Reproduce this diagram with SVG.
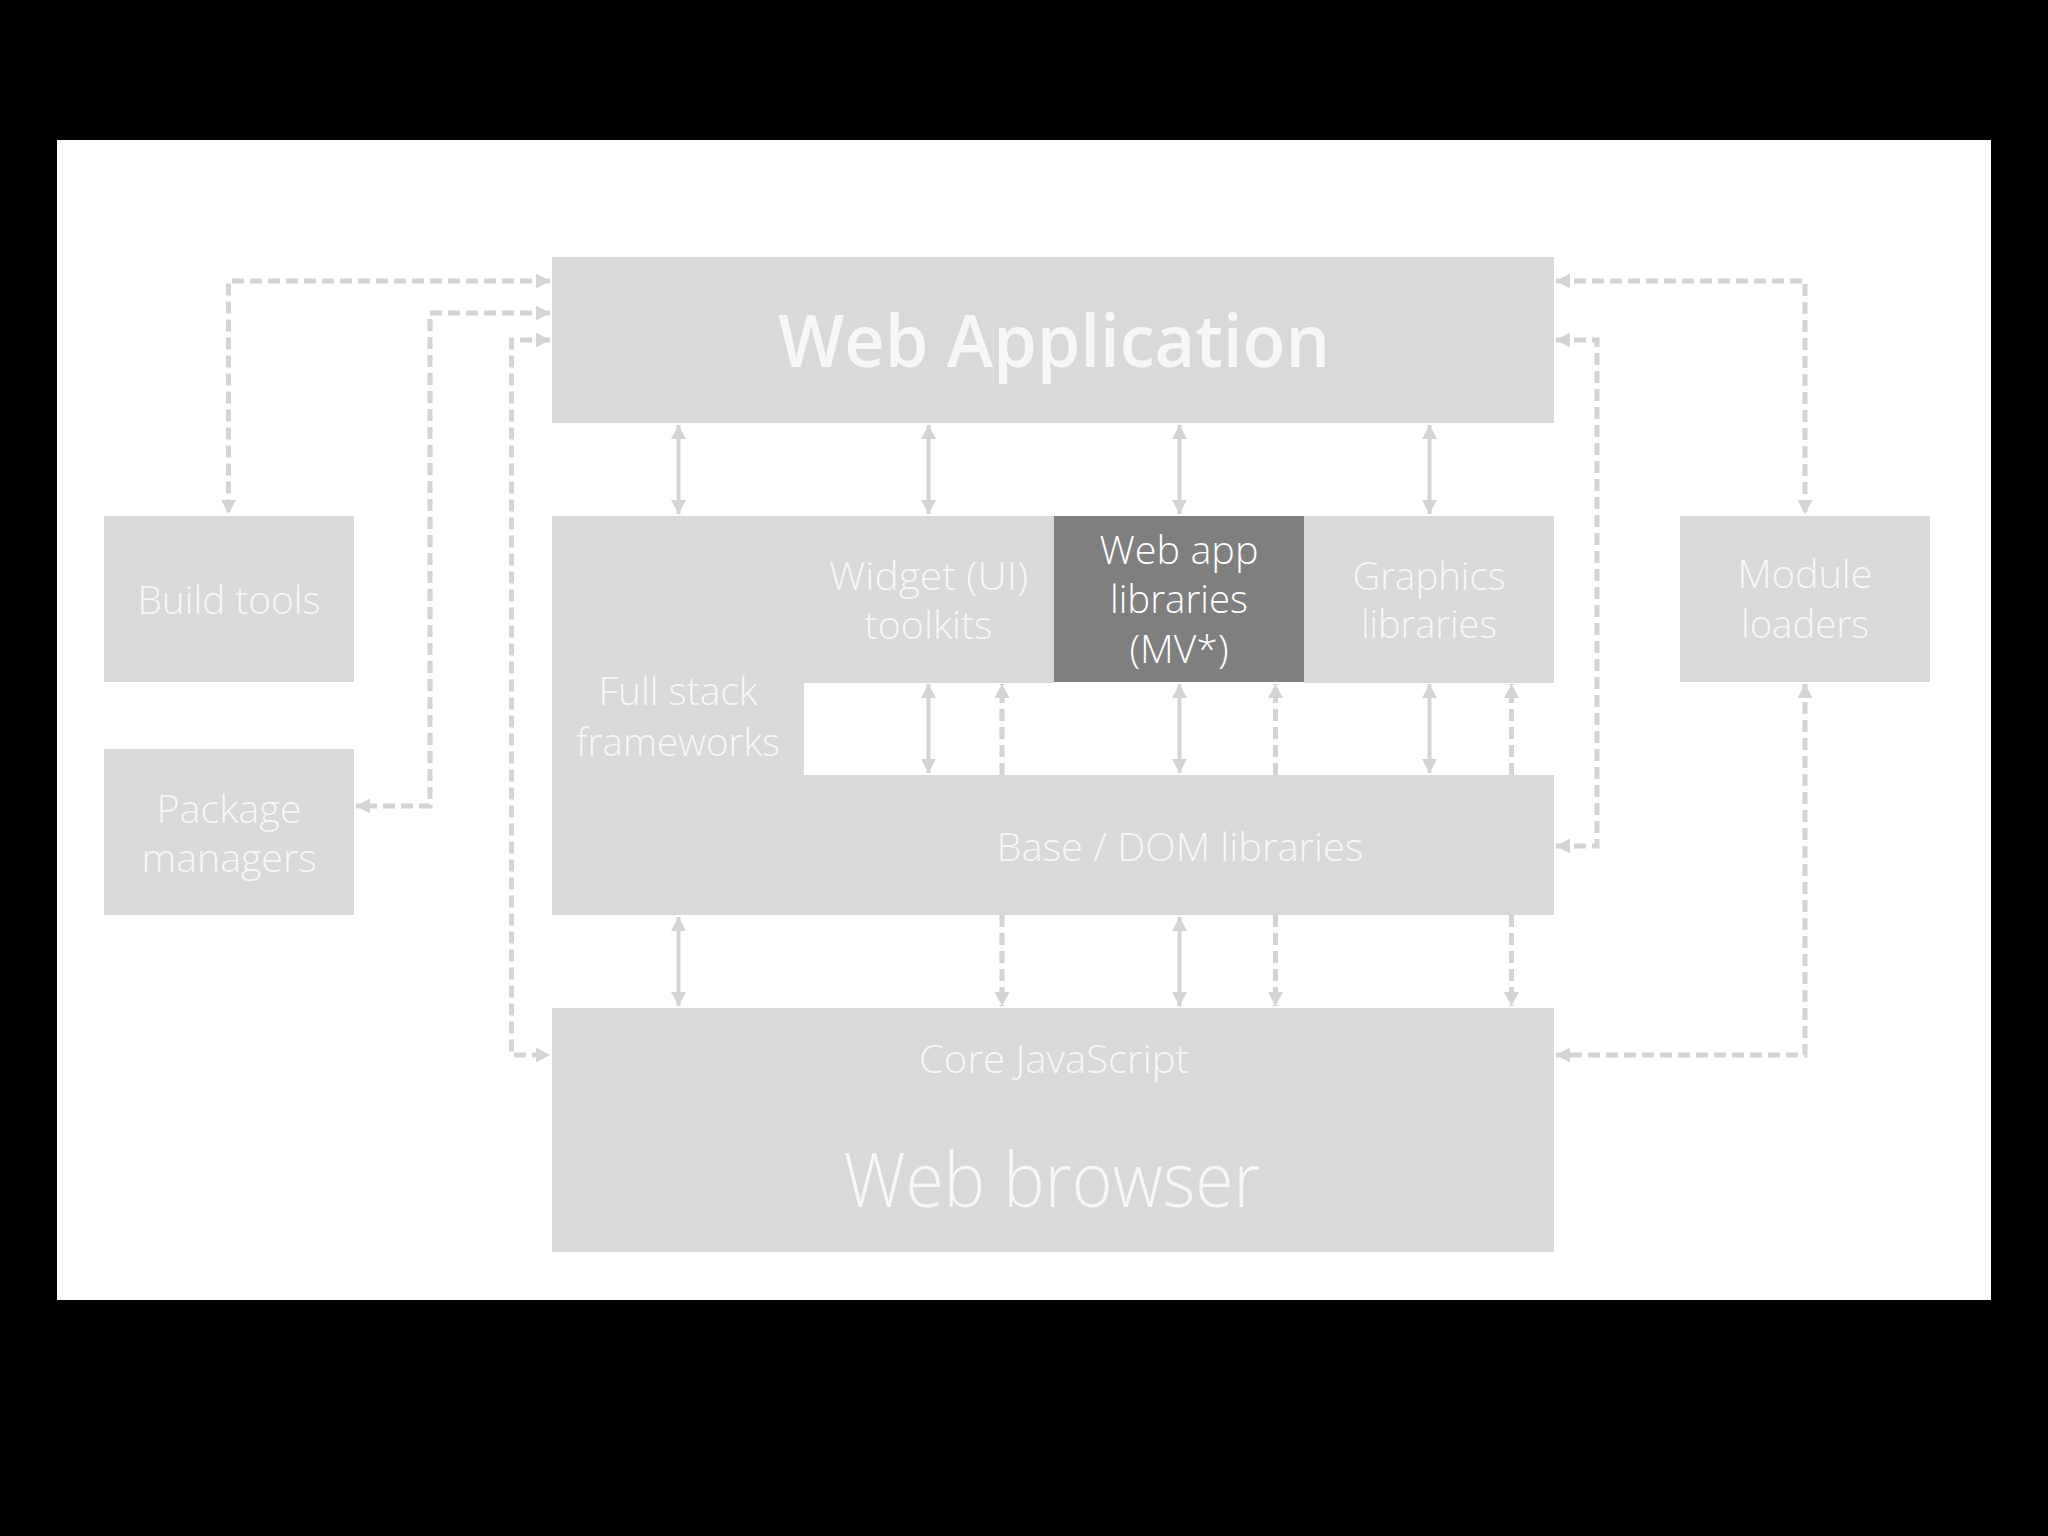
<svg xmlns="http://www.w3.org/2000/svg" width="2048" height="1536" viewBox="0 0 2048 1536">
  <style>
    .box { fill: #d9d9d9; }
    .dark { fill: #7f7f7f; }
    .t { font-family: "Open Sans", "Noto Sans", "Liberation Sans", sans-serif; font-weight: 300; fill: #f7f7f7; text-anchor: middle; font-size: 39px; }
    .tw { fill: #ffffff; font-weight: 300; }
    .big { font-size: 72px; font-weight: 600; }
    .huge { font-size: 76px; font-weight: 300; }
    .solid { fill: none; stroke: #d4d4d4; stroke-width: 4; marker-start: url(#ah); marker-end: url(#ah); }
    .dash { fill: none; stroke: #d4d4d4; stroke-width: 5; stroke-dasharray: 12 6; }
    .both { marker-start: url(#ah); marker-end: url(#ah); }
    .end { marker-end: url(#ah); }
  </style>
  <defs>
    <marker id="ah" markerUnits="userSpaceOnUse" markerWidth="15" markerHeight="16" refX="14" refY="8" orient="auto-start-reverse">
      <path d="M0,0.5 L14,8 L0,15.5 z" fill="#d4d4d4"/>
    </marker>
  </defs>

  <rect x="0" y="0" width="2048" height="1536" fill="#000000"/>
  <rect x="57" y="140" width="1934" height="1160" fill="#ffffff"/>

  <g id="web-application">
    <rect class="box" x="552" y="257" width="1002" height="166"/>
    <text class="t big" x="1054" y="367" textLength="552" lengthAdjust="spacingAndGlyphs">Web Application</text>
  </g>

  <g id="full-stack-frameworks">
    <rect class="box" x="552" y="516" width="252" height="399"/>
    <text class="t" x="678" y="705" textLength="159" lengthAdjust="spacingAndGlyphs">Full stack</text>
    <text class="t" x="678" y="756" textLength="204" lengthAdjust="spacingAndGlyphs">frameworks</text>
  </g>

  <g id="widget-toolkits">
    <rect class="box" x="803" y="516" width="251" height="167"/>
    <text class="t" x="928.5" y="590" textLength="199" lengthAdjust="spacingAndGlyphs">Widget (UI)</text>
    <text class="t" x="928.5" y="639" textLength="128" lengthAdjust="spacingAndGlyphs">toolkits</text>
  </g>

  <g id="web-app-libraries">
    <rect class="dark" x="1054" y="516" width="250" height="166"/>
    <text class="t tw" x="1179" y="564" textLength="159" lengthAdjust="spacingAndGlyphs">Web app</text>
    <text class="t tw" x="1179" y="613" textLength="138" lengthAdjust="spacingAndGlyphs">libraries</text>
    <text class="t tw" x="1179" y="663" textLength="99" lengthAdjust="spacingAndGlyphs">(MV*)</text>
  </g>

  <g id="graphics-libraries">
    <rect class="box" x="1304" y="516" width="250" height="167"/>
    <text class="t" x="1429" y="590" textLength="153" lengthAdjust="spacingAndGlyphs">Graphics</text>
    <text class="t" x="1429" y="638" textLength="136" lengthAdjust="spacingAndGlyphs">libraries</text>
  </g>

  <g id="base-dom-libraries">
    <rect class="box" x="803" y="775" width="751" height="140"/>
    <text class="t" x="1180" y="861" textLength="367" lengthAdjust="spacingAndGlyphs">Base / DOM libraries</text>
  </g>

  <g id="web-browser">
    <rect class="box" x="552" y="1008" width="1002" height="244"/>
    <text class="t" x="1054" y="1073" textLength="270" lengthAdjust="spacingAndGlyphs">Core JavaScript</text>
    <text class="t huge" x="1052" y="1207" textLength="417" lengthAdjust="spacingAndGlyphs">Web browser</text>
  </g>

  <g id="build-tools">
    <rect class="box" x="104" y="516" width="250" height="166"/>
    <text class="t" x="229" y="614" textLength="183" lengthAdjust="spacingAndGlyphs">Build tools</text>
  </g>

  <g id="package-managers">
    <rect class="box" x="104" y="749" width="250" height="166"/>
    <text class="t" x="229" y="823" textLength="145" lengthAdjust="spacingAndGlyphs">Package</text>
    <text class="t" x="229" y="872" textLength="175" lengthAdjust="spacingAndGlyphs">managers</text>
  </g>

  <g id="module-loaders">
    <rect class="box" x="1680" y="516" width="250" height="166"/>
    <text class="t" x="1805" y="588" textLength="135" lengthAdjust="spacingAndGlyphs">Module</text>
    <text class="t" x="1805" y="638" textLength="128" lengthAdjust="spacingAndGlyphs">loaders</text>
  </g>

  <g id="connectors">
    <!-- Web Application <-> middle layer -->
    <path class="solid" d="M678.5,425 V514"/>
    <path class="solid" d="M928.5,425 V514"/>
    <path class="solid" d="M1179.5,425 V514"/>
    <path class="solid" d="M1429.5,425 V514"/>
    <!-- upper libraries <-> Base/DOM -->
    <path class="solid" d="M928.5,684 V773"/>
    <path class="solid" d="M1179.5,684 V773"/>
    <path class="solid" d="M1429.5,684 V773"/>
    <path class="dash end" d="M1002,775 V684"/>
    <path class="dash end" d="M1275.5,775 V684"/>
    <path class="dash end" d="M1511.5,775 V684"/>
    <!-- middle layer <-> Web browser -->
    <path class="solid" d="M678.5,917 V1006"/>
    <path class="solid" d="M1179.5,917 V1006"/>
    <path class="dash end" d="M1002,915 V1006"/>
    <path class="dash end" d="M1275.5,915 V1006"/>
    <path class="dash end" d="M1511.5,915 V1006"/>
    <!-- left side -->
    <path class="dash both" d="M550,281 H228.5 V514"/>
    <path class="dash both" d="M550,313 H430 V806 H356"/>
    <path class="dash both" d="M550,340 H511.5 V1055 H550"/>
    <!-- right side -->
    <path class="dash both" d="M1556,281 H1805 V514"/>
    <path class="dash both" d="M1556,340 H1597 V846 H1556"/>
    <path class="dash both" d="M1805,684 V1055 H1556"/>
  </g>
</svg>
